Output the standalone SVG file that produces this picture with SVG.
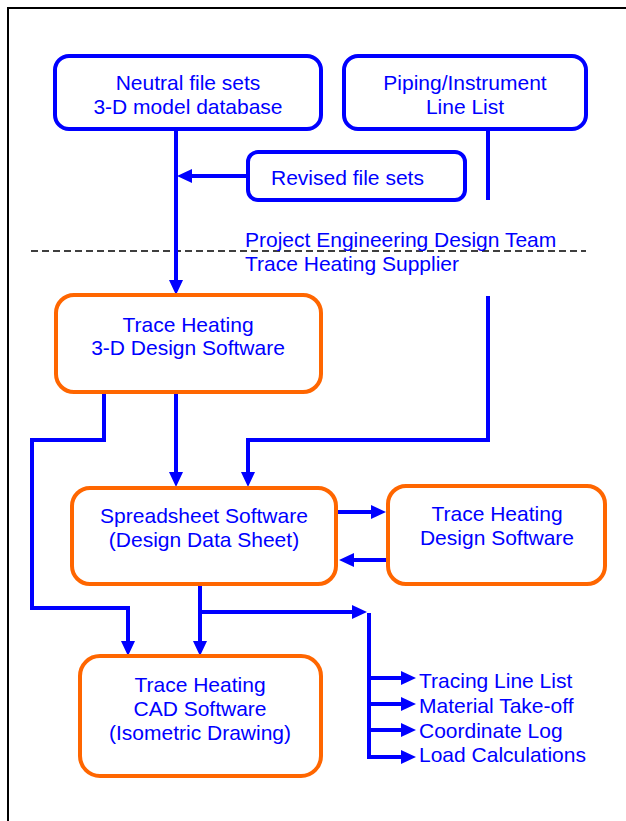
<svg xmlns="http://www.w3.org/2000/svg" width="626" height="821" viewBox="0 0 626 821">
<style>
text{font-family:"Liberation Sans",Arial,sans-serif;font-size:21px;fill:#0000FF}
.c{text-anchor:middle}
.bb{fill:#fff;stroke:#0000FF;stroke-width:4}
.ob{fill:#fff;stroke:#FF6600;stroke-width:4}
.ln{fill:none;stroke:#0000FF;stroke-width:4}
.ar{marker-end:url(#ah)}
</style>
<defs>
<marker id="ah" viewBox="0 0 15 14" markerWidth="15" markerHeight="14" markerUnits="userSpaceOnUse" refX="3" refY="7" orient="auto">
<path d="M0,0 L15,7 L0,14 z" fill="#0000FF"/>
</marker>
</defs>
<rect x="0" y="0" width="626" height="821" fill="#fff"/>
<path d="M8,900 V8 H700" fill="none" stroke="#000" stroke-width="2"/>
<line x1="31" y1="251" x2="586" y2="251" stroke="#000" stroke-width="1.5" stroke-dasharray="7,4"/>
<g id="connectors">
<path class="ln ar" d="M176,129 V283"/>
<path class="ln ar" d="M248,176 H189"/>
<path class="ln" d="M488,129 V200"/>
<path class="ln ar" d="M488,296 V440 H248 V475"/>
<path class="ln ar" d="M176,392 V475"/>
<path class="ln ar" d="M104,392 V440 H32 V608 H128 V644"/>
<path class="ln ar" d="M337,512 H374"/>
<path class="ln ar" d="M388,560 H351"/>
<path class="ln ar" d="M200,584 V644"/>
<path class="ln ar" d="M200,612 H355"/>
<path class="ln" d="M369,613 V758"/>
<path class="ln ar" d="M367,678 H404"/>
<path class="ln ar" d="M367,704 H404"/>
<path class="ln ar" d="M367,730 H404"/>
<path class="ln ar" d="M367,757 H404"/>
</g>
<g id="neutral">
<rect class="bb" x="55" y="56" width="266" height="73" rx="14"/>
<text class="c" x="188" y="90">Neutral file sets</text>
<text class="c" x="188" y="114">3-D model database</text>
</g>
<g id="piping">
<rect class="bb" x="344" y="56" width="242" height="73" rx="14"/>
<text class="c" x="465" y="90">Piping/Instrument</text>
<text class="c" x="465" y="114">Line List</text>
</g>
<g id="revised">
<rect class="bb" x="248" y="152" width="217" height="48" rx="10"/>
<text x="271" y="185">Revised file sets</text>
</g>
<g id="labels">
<text x="245" y="247">Project Engineering Design Team</text>
<text x="245" y="271">Trace Heating Supplier</text>
</g>
<g id="trace3d">
<rect class="ob" x="56" y="295" width="265" height="97" rx="18"/>
<text class="c" x="188" y="332">Trace Heating</text>
<text class="c" x="188" y="355">3-D Design Software</text>
</g>
<g id="spreadsheet">
<rect class="ob" x="72" y="488" width="264" height="96" rx="18"/>
<text class="c" x="204" y="523">Spreadsheet Software</text>
<text class="c" x="204" y="547">(Design Data Sheet)</text>
</g>
<g id="designsw">
<rect class="ob" x="388" y="486" width="217" height="98" rx="18"/>
<text class="c" x="497" y="521">Trace Heating</text>
<text class="c" x="497" y="545">Design Software</text>
</g>
<g id="cad">
<rect class="ob" x="80" y="656" width="241" height="120" rx="20"/>
<text class="c" x="200" y="692">Trace Heating</text>
<text class="c" x="200" y="716">CAD Software</text>
<text class="c" x="200" y="740">(Isometric Drawing)</text>
</g>
<g id="outputs">
<text x="419" y="688">Tracing Line List</text>
<text x="419" y="713">Material Take-off</text>
<text x="419" y="738">Coordinate Log</text>
<text x="419" y="762">Load Calculations</text>
</g>
</svg>
